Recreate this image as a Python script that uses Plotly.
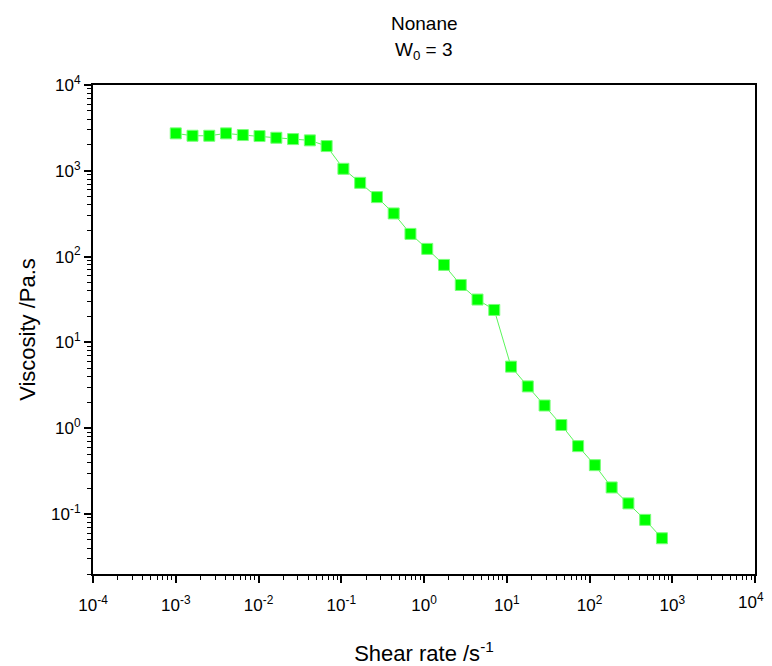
import plotly.graph_objects as go

shear_rate = [0.001, 0.001594, 0.002542, 0.004053, 0.006462, 0.01030, 0.01643, 0.02619,
              0.04176, 0.06658, 0.1062, 0.1693, 0.2699, 0.4303, 0.6861, 1.094, 1.744,
              2.781, 4.434, 7.069, 11.27, 17.97, 28.66, 45.69, 72.85, 116.1, 185.2,
              295.3, 470.8, 750.6]
viscosity = [2731, 2561, 2561, 2731, 2610, 2541, 2427, 2343, 2263, 1942, 1055, 724.4,
             493.5, 318.4, 184.0, 123.0, 80.0, 46.7, 31.6, 23.9, 5.22, 3.07, 1.84, 1.09,
             0.618, 0.371, 0.204, 0.133, 0.0855, 0.0522]

x_tickvals = [1e-4, 1e-3, 1e-2, 1e-1, 1, 10, 100, 1000, 10000]
x_ticktext = ["10<sup>-4</sup>", "10<sup>-3</sup>", "10<sup>-2</sup>", "10<sup>-1</sup>",
              "10<sup>0</sup>", "10<sup>1</sup>", "10<sup>2</sup>", "10<sup>3</sup>", ""]
x_last_label = "10<sup>4</sup>"
y_tickvals = [0.1, 1, 10, 100, 1000, 10000]
y_ticktext = ["10<sup>-1</sup>", "10<sup>0</sup>", "10<sup>1</sup>", "10<sup>2</sup>",
              "10<sup>3</sup>", "10<sup>4</sup>"]

fig = go.Figure()
fig.add_trace(go.Scatter(
    x=shear_rate, y=viscosity, mode="lines+markers",
    line=dict(color="rgb(90,245,90)", width=1),
    marker=dict(symbol="square", size=11, color="#00FF00",
                line=dict(color="rgb(120,255,120)", width=1)),
    showlegend=False,
))

font_family = "Liberation Sans, Arial, sans-serif"
axis_common = dict(
    type="log", showgrid=False, zeroline=False, automargin=False,
    showline=True, linecolor="black", linewidth=2, mirror=True,
    ticks="outside", ticklen=7, tickwidth=1.5, tickcolor="black",
    tickfont=dict(family=font_family, size=17, color="black"),
    minor=dict(ticks="outside", ticklen=4, tickwidth=1, tickcolor="black",
               dtick="D1", showgrid=False),
)

# page body has an 8px margin, so the figure is sized to fit the 772x666 window
fig.update_layout(
    width=764, height=658,
    paper_bgcolor="white", plot_bgcolor="white",
    margin=dict(l=85, r=17, t=77, b=92),
    font=dict(family=font_family, color="black"),
    xaxis=dict(axis_common, range=[-4, 4], tickvals=x_tickvals, ticktext=x_ticktext,
               ticklabelstandoff=8,
               title=dict(text="Shear rate /s<sup>-1</sup>", standoff=33,
                          font=dict(family=font_family, size=22))),
    yaxis=dict(axis_common, range=[-1.699, 4], tickvals=y_tickvals, ticktext=y_ticktext,
               title=dict(text="Viscosity /Pa.s", standoff=9,
                          font=dict(family=font_family, size=22))),
    annotations=[
        dict(text="Nonane", xref="paper", yref="paper", x=0.5, y=1.125,
             xanchor="center", yanchor="middle", showarrow=False,
             font=dict(family=font_family, size=19, color="black")),
        dict(text="W<sub>0</sub> = 3", xref="paper", yref="paper", x=0.5, y=1.069,
             xanchor="center", yanchor="middle", showarrow=False,
             font=dict(family=font_family, size=19, color="black")),
        dict(text=x_last_label, xref="x", yref="paper", x=4, y=0,
             xanchor="center", yanchor="top", yshift=-14, xshift=-4,
             showarrow=False,
             font=dict(family=font_family, size=17, color="black")),
    ],
)

fig.write_html("out.html")
